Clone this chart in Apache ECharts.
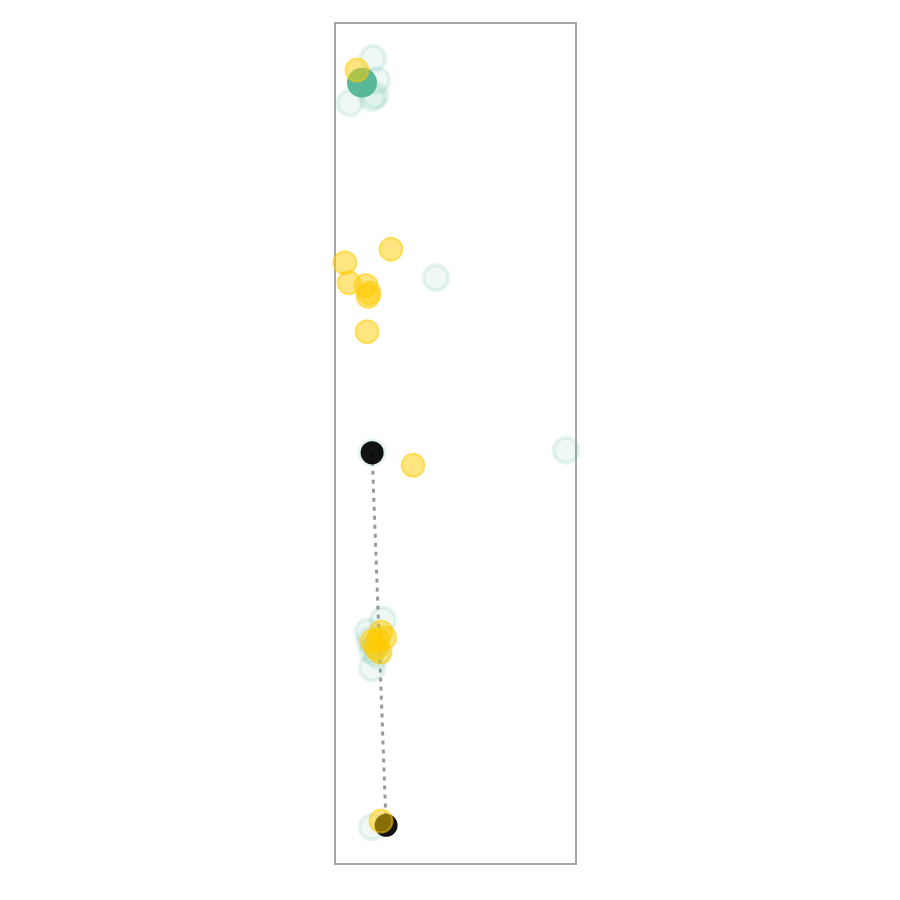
<!DOCTYPE html>
<html>
<head>
<meta charset="utf-8">
<script src="https://cdn.jsdelivr.net/npm/echarts@6/dist/echarts.min.js"></script>
<style>html,body{margin:0;padding:0;background:#fff}#c{width:900px;height:900px}</style>
</head>
<body>
<div id="c"></div>
<script>
// Faint teal group points [x, y]
const tealPoints = [
  [15.8, 95.8], [17.4, 93.2], [16.6, 91.4], [15.4, 91.1], [6.2, 90.5],
  [41.9, 69.7], [95.9, 49.2], [15.4, 48.9],
  [19.9, 29.0], [13.7, 27.6], [14.5, 26.6], [16.6, 26.0], [15.4, 25.4],
  [17.4, 24.9], [15.4, 23.3], [15.4, 4.4]
];
// Yellow group points [x, y]
const yellowPoints = [
  [9.1, 94.4], [23.2, 73.1], [4.1, 71.5], [5.8, 69.1], [12.9, 68.8],
  [14.1, 67.9], [13.7, 67.5], [13.3, 63.3], [32.4, 47.4],
  [19.1, 27.6], [20.7, 26.9], [15.4, 26.5], [17.0, 25.7], [18.7, 25.2], [17.8, 26.6],
  [19.1, 5.1]
];
// Black path points
const pathPoints = [[15.4, 48.9], [21.2, 4.6]];
// Highlighted teal point
const highlightPoint = [[11.2, 92.9]];

const chart = echarts.init(document.getElementById('c'));
chart.setOption({
  animation: false,
  grid: {left: 335, right: 324, top: 23, bottom: 36, show: true, borderColor: '#a6a6a6', borderWidth: 2, backgroundColor: 'transparent'},
  xAxis: {type: 'value', min: 0, max: 100, show: false},
  yAxis: {type: 'value', min: 0, max: 100, show: false},
  series: [
    {type: 'scatter', z: 2, data: tealPoints, symbolSize: 25,
     itemStyle: {opacity: 1, color: 'rgba(82,181,150,0.09)', borderColor: 'rgba(82,181,150,0.13)', borderWidth: 4}},
    {type: 'line', z: 2, data: pathPoints, symbol: 'none',
     lineStyle: {color: '#999', width: 3, type: [4, 5]}},
    {type: 'scatter', z: 3, data: pathPoints, symbolSize: 23,
     itemStyle: {opacity: 1, color: 'rgba(0,0,0,0.93)'}},
    {type: 'scatter', z: 3, data: highlightPoint, symbolSize: 30,
     itemStyle: {opacity: 1, color: 'rgba(82,181,150,0.95)'}},
    {type: 'scatter', z: 4, data: yellowPoints, symbolSize: 23,
     itemStyle: {opacity: 1, color: 'rgba(255,204,0,0.5)', borderColor: 'rgba(255,204,0,0.5)', borderWidth: 2}}
  ]
});
</script>
</body>
</html>
